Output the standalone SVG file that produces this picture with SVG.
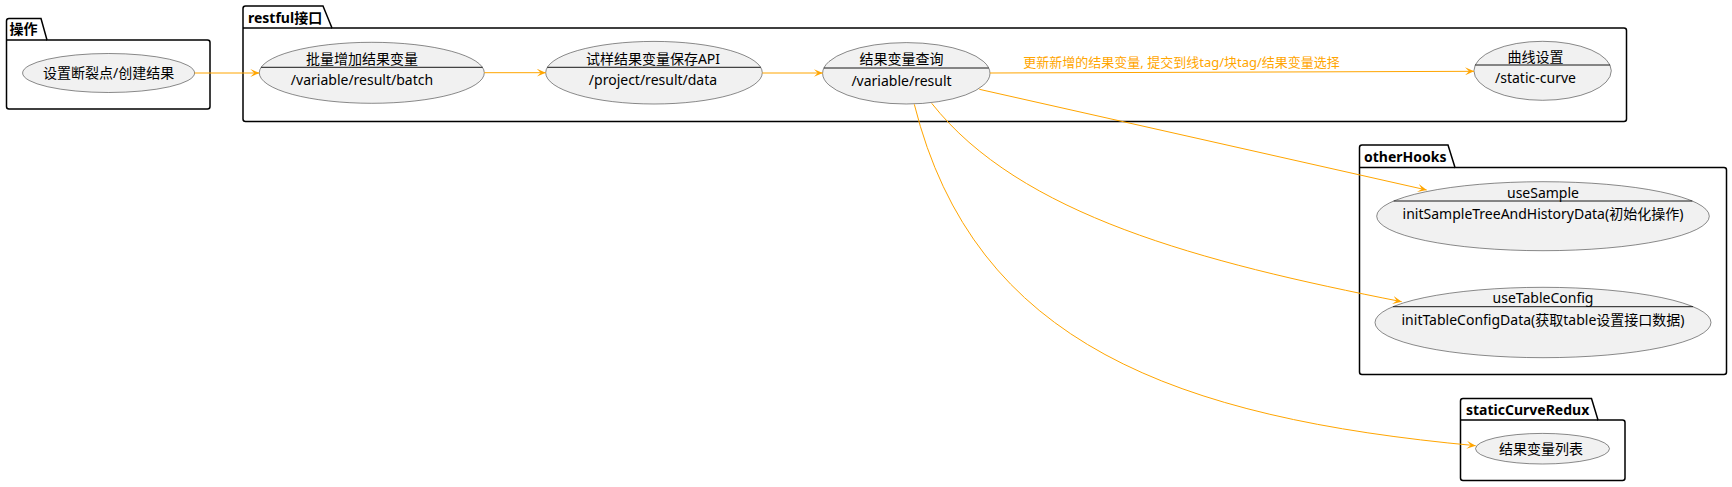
<svg xmlns="http://www.w3.org/2000/svg" width="1732" height="487" viewBox="0 0 1732 487">
<defs>
<style>
.pkg{fill:#FFFFFF;stroke:#000000;stroke-width:1.5;}
.pkgline{stroke:#000000;stroke-width:1.5;fill:none;}
.pkgt{font-family:"Noto Sans","Noto Sans CJK SC",sans-serif;font-size:14px;font-weight:bold;fill:#000000;}
.uc{fill:#F1F1F1;stroke:#181818;stroke-width:0.5;}
.sep{stroke:#181818;stroke-width:1;}
.t{font-family:"Noto Sans","Noto Sans CJK SC",sans-serif;font-size:14px;fill:#000000;text-anchor:middle;}
.edge{fill:none;stroke:#FFA500;stroke-width:1;marker-end:url(#arr);}
.lbl{font-family:"Noto Sans","Noto Sans CJK SC",sans-serif;font-size:13px;fill:#FFA500;text-anchor:middle;}
</style>
<marker id="arr" viewBox="0 0 9 8" refX="9" refY="4" markerWidth="9" markerHeight="8" markerUnits="userSpaceOnUse" orient="auto">
<path d="M0,0 L9,4 L0,8 L4,4 Z" fill="#FFA500"/>
</marker>
</defs>
<rect width="1732" height="487" fill="#FFFFFF"/>

<g id="pkg-caozuo">
<path class="pkg" d="M6.5,21 Q6.5,18.5 9,18.5 L41,18.5 L47,40 L207.5,40 Q210,40 210,42.5 L210,106.5 Q210,109 207.5,109 L9,109 Q6.5,109 6.5,106.5 Z"/>
<path class="pkgline" d="M6.5,40 L47,40"/>
<text class="pkgt" x="9.5" y="34">操作</text>
</g>

<g id="pkg-restful">
<path class="pkg" d="M243,8.5 Q243,6 245.5,6 L323,6 L332,28 L1624,28 Q1626.5,28 1626.5,30.5 L1626.5,119 Q1626.5,121.5 1624,121.5 L245.5,121.5 Q243,121.5 243,119 Z"/>
<path class="pkgline" d="M243,28 L332,28"/>
<text class="pkgt" x="248" y="22.5">restful接口</text>
</g>

<g id="pkg-otherHooks">
<path class="pkg" d="M1359.5,147.5 Q1359.5,145 1362,145 L1448,145 L1455,167.5 L1724,167.5 Q1726.5,167.5 1726.5,170 L1726.5,372 Q1726.5,374.5 1724,374.5 L1362,374.5 Q1359.5,374.5 1359.5,372 Z"/>
<path class="pkgline" d="M1359.5,167.5 L1455,167.5"/>
<text class="pkgt" x="1364" y="161.5">otherHooks</text>
</g>

<g id="pkg-staticCurveRedux">
<path class="pkg" d="M1460.5,401 Q1460.5,398.5 1463,398.5 L1591.5,398.5 L1598,420 L1622.5,420 Q1625,420 1625,422.5 L1625,478 Q1625,480.5 1622.5,480.5 L1463,480.5 Q1460.5,480.5 1460.5,478 Z"/>
<path class="pkgline" d="M1460.5,420 L1598,420"/>
<text class="pkgt" x="1466" y="415">staticCurveRedux</text>
</g>

<g id="uc-setbreak">
<ellipse class="uc" cx="108.6" cy="73" rx="86" ry="19.5"/>
<text class="t" x="108.6" y="77.5">设置断裂点/创建结果</text>
</g>

<g id="uc-batch">
<ellipse class="uc" cx="371.8" cy="72.8" rx="112.5" ry="30.5"/>
<line class="sep" x1="261.1" y1="67.3" x2="482.5" y2="67.3"/>
<text class="t" x="362" y="63.5">批量增加结果变量</text>
<text class="t" x="362" y="85">/variable/result/batch</text>
</g>

<g id="uc-data">
<ellipse class="uc" cx="654" cy="72.7" rx="108.3" ry="31.3"/>
<line class="sep" x1="547.3" y1="67.3" x2="760.7" y2="67.3"/>
<text class="t" x="653" y="63.5">试样结果变量保存API</text>
<text class="t" x="653" y="85">/project/result/data</text>
</g>

<g id="uc-query">
<ellipse class="uc" cx="906.3" cy="73.3" rx="83.7" ry="30.7"/>
<line class="sep" x1="823.9" y1="68" x2="988.7" y2="68"/>
<text class="t" x="901.5" y="64">结果变量查询</text>
<text class="t" x="901.5" y="85.5">/variable/result</text>
</g>

<g id="uc-curve">
<ellipse class="uc" cx="1542.6" cy="70.8" rx="68.7" ry="29.5"/>
<line class="sep" x1="1475.2" y1="65" x2="1610" y2="65"/>
<text class="t" x="1535.5" y="61.5">曲线设置</text>
<text class="t" x="1535.5" y="83">/static-curve</text>
</g>

<g id="uc-useSample">
<ellipse class="uc" cx="1543" cy="216.2" rx="166.3" ry="34.5"/>
<line class="sep" x1="1393.7" y1="201" x2="1692.3" y2="201"/>
<text class="t" x="1543" y="197.5">useSample</text>
<text class="t" x="1543" y="218.5">initSampleTreeAndHistoryData(初始化操作)</text>
</g>

<g id="uc-useTableConfig">
<ellipse class="uc" cx="1543" cy="322.5" rx="168" ry="35.2"/>
<line class="sep" x1="1392.9" y1="306.7" x2="1693.1" y2="306.7"/>
<text class="t" x="1543" y="303">useTableConfig</text>
<text class="t" x="1543" y="325">initTableConfigData(获取table设置接口数据)</text>
</g>

<g id="uc-list">
<ellipse class="uc" cx="1542.5" cy="448.7" rx="67" ry="15.3"/>
<text class="t" x="1541" y="453.5">结果变量列表</text>
</g>

<g id="connectors">
<path class="edge" d="M194.6,73 L259.3,73"/>
<path class="edge" d="M484.3,72.7 L545.7,72.7"/>
<path class="edge" d="M762.3,73 L822.7,73"/>
<path class="edge" d="M990,73 L1474,71.3"/>
<text class="lbl" x="1181.6" y="67">更新新增的结果变量, 提交到线tag/块tag/结果变量选择</text>
<path class="edge" d="M979.3,89.3 L1426.7,190"/>
<path class="edge" d="M931.7,103.3 C1020,215 1200,262 1401.7,301.7"/>
<path class="edge" d="M914.3,104.3 C974.3,344.3 1175.7,417.7 1475.7,445.7"/>
</g>
</svg>
